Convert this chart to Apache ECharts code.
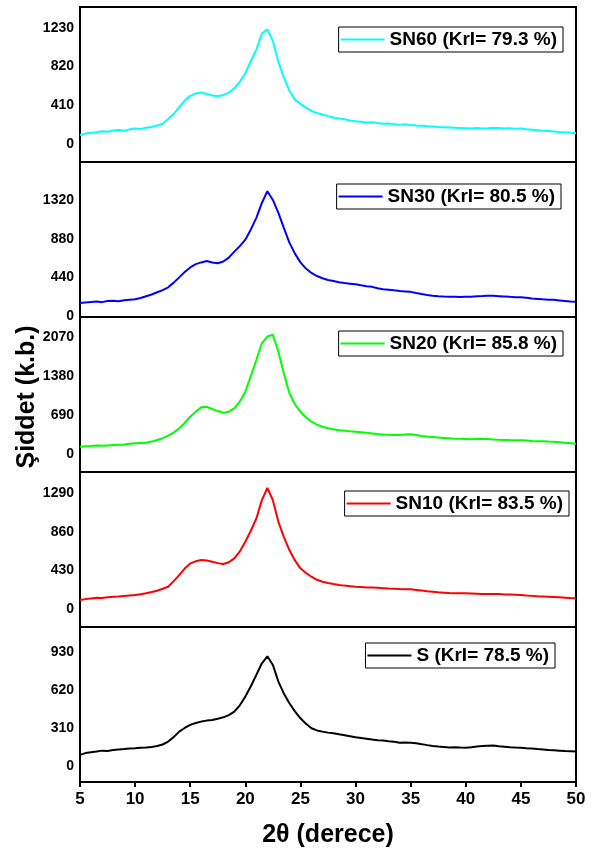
<!DOCTYPE html>
<html>
<head>
<meta charset="utf-8">
<script src="https://cdn.jsdelivr.net/npm/echarts@6.0.0/dist/echarts.min.js"></script>
<style>html,body{margin:0;padding:0;background:#fff}#main{width:600px;height:852px}</style>
</head>
<body>
<div id="main"></div>
<script>
// 2theta from 5 to 50 in 0.5 steps
var angles = [];
for (var a = 5; a <= 50.001; a += 0.5) angles.push(a);

var names = ['SN60 (KrI= 79.3 %)', 'SN30 (KrI= 80.5 %)', 'SN20 (KrI= 85.8 %)', 'SN10 (KrI= 83.5 %)', 'S (KrI= 78.5 %)'];
var colors = ['#00ffff', '#0000ff', '#00ff00', '#ff0000', '#000000'];

var sn60 = [95,110,118,125,135,130,142,148,140,155,
  165,160,172,180,195,215,265,320,390,460,
  510,535,545,530,515,505,520,545,590,660,
  750,880,1000,1170,1215,1090,870,700,565,470,
  425,385,350,330,312,295,280,270,262,250,
  240,235,228,230,222,215,218,210,205,208,
  200,195,192,188,185,180,178,175,172,170,
  168,165,170,165,168,172,170,165,168,162,
  165,155,150,145,140,138,132,128,125,120,
  115];
var sn30 = [147,155,160,165,158,170,173,168,180,185,
  190,205,225,245,270,295,327,380,440,500,
  553,590,610,625,610,600,620,665,733,795,
  868,985,1117,1286,1420,1320,1173,1000,835,710,
  610,540,490,455,430,410,398,385,375,368,
  361,350,340,332,316,305,300,292,285,280,
  275,262,250,240,232,225,222,220,218,216,
  218,220,225,228,232,230,226,222,218,215,
  214,208,200,195,190,186,184,178,172,166,
  161];
var sn20 = [130,138,142,150,145,152,159,165,170,180,
  189,195,201,220,248,280,324,380,454,550,
  660,750,826,837,797,760,731,749,809,930,
  1103,1380,1664,1959,2080,2110,1811,1420,1074,880,
  749,650,572,520,483,455,437,420,410,402,
  395,385,375,365,354,345,340,338,336,345,
  348,335,320,310,301,292,285,278,272,268,
  265,262,266,268,265,258,252,250,246,244,
  242,238,232,228,225,220,218,210,200,192,
  182];
var sn10 = [100,110,118,125,122,130,137,140,145,150,
  155,165,175,188,203,225,248,310,377,450,
  507,530,544,540,525,510,500,520,563,640,
  747,870,1007,1210,1345,1210,969,800,655,540,
  452,400,359,325,303,290,278,268,260,254,
  248,244,240,238,236,232,228,225,222,220,
  219,212,205,198,192,186,182,178,176,175,
  174,172,170,168,166,168,166,162,160,158,
  155,150,146,142,140,137,134,130,126,122,
  119];
var s0 = [90,105,112,118,125,122,130,135,138,142,
  144,148,150,155,163,175,199,235,280,310,
  335,350,362,370,375,385,397,415,443,495,
  566,650,743,838,895,824,688,590,512,445,
  389,345,308,290,280,272,267,258,250,242,
  234,228,222,215,210,207,202,198,190,192,
  190,185,178,170,163,158,155,150,152,150,
  149,152,158,162,165,166,160,156,152,150,
  149,145,142,138,135,131,128,125,122,120,
  117];
var values = [sn60, sn30, sn20, sn10, s0];

var yTicks = [[0,410,820,1230],[0,440,880,1320],[0,690,1380,2070],[0,430,860,1290],[0,310,620,930]];
var yMin = [-191, -11, -318, -200, -131];
var yMax = [1452, 1752, 2424, 1523, 1134];

var gridTops = [7, 162, 317, 472, 627];
var legendRight = [37, 39, 37, 31, 45];
var legendTop = [27, 184, 331, 491, 643];

var myChart = echarts.init(document.getElementById('main'));
var grids = [], xAxes = [], yAxes = [], series = [], legends = [];
for (var k = 0; k < 5; k++) {
    var last = k === 4;
    grids.push({left: 80, right: 24, top: gridTops[k], height: 155,
        show: true, borderColor: '#000', borderWidth: 2});
    xAxes.push({
        type: 'value', gridIndex: k, min: 5, max: 50, interval: 5,
        axisLine: {show: true, onZero: false, lineStyle: {color: '#000', width: 2}},
        axisTick: {show: last, inside: false, length: 5, lineStyle: {color: '#000', width: 2}},
        axisLabel: {show: last, margin: 9, color: '#000', fontSize: 17, fontWeight: 'bold', fontFamily: 'Liberation Sans, Arial'},
        splitLine: {show: false}
    });
    yAxes.push({
        type: 'value', gridIndex: k, min: yMin[k], max: yMax[k],
        axisLine: {show: true, onZero: false, lineStyle: {color: '#000', width: 2}},
        axisTick: {show: false},
        axisLabel: {customValues: yTicks[k], formatter: function (v) { return String(v); },
            margin: 6, color: '#000', fontSize: 14, fontWeight: 'bold', fontFamily: 'Liberation Sans, Arial'},
        splitLine: {show: false}
    });
    series.push({
        name: names[k], type: 'line', xAxisIndex: k, yAxisIndex: k,
        data: angles.map(function (x, i) { return [x, values[k][i]]; }),
        symbol: 'none', color: colors[k],
        lineStyle: {width: 2, color: colors[k]}
    });
    legends.push({
        data: [names[k]], right: legendRight[k], top: legendTop[k],
        orient: 'horizontal', icon: 'rect', itemWidth: 44, itemHeight: 2, itemGap: 4,
        itemStyle: {color: colors[k]},
        backgroundColor: '#fff', borderColor: '#000', borderWidth: 1, padding: [3, 6, 3, 2],
        textStyle: {color: '#000', fontSize: 19, fontWeight: 'bold', fontFamily: 'Liberation Sans, Arial'}
    });
}

option = {
    backgroundColor: '#fff',
    animation: false,
    grid: grids,
    xAxis: xAxes,
    yAxis: yAxes,
    legend: legends,
    series: series,
    graphic: [
        {type: 'text', x: 328, y: 835,
            style: {text: '2\u03b8 (derece)', fill: '#000', align: 'center', verticalAlign: 'middle',
                font: 'bold 25px "Liberation Sans", Arial'}},
        {type: 'text', x: 27, y: 397, rotation: Math.PI / 2,
            style: {text: 'Şiddet (k.b.)', fill: '#000', align: 'center', verticalAlign: 'middle',
                font: 'bold 25px "Liberation Sans", Arial'}}
    ]
};
myChart.setOption(option);
</script>
</body>
</html>
